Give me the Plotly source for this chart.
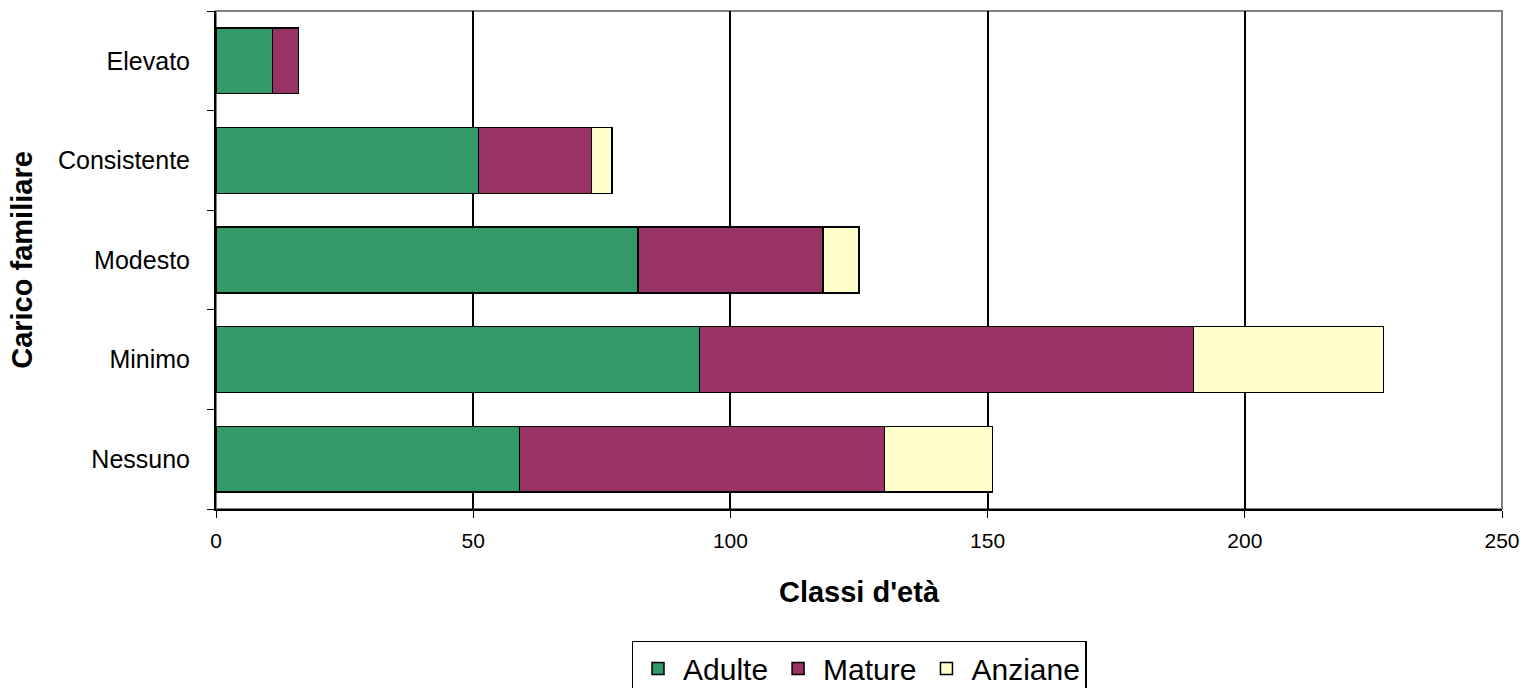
import plotly.graph_objects as go

FONT = "Arial, Liberation Sans, sans-serif"

categories = ["Nessuno", "Minimo", "Modesto", "Consistente", "Elevato"]
adulte = [59, 94, 82, 51, 11]
mature = [71, 96, 36, 22, 5]
anziane = [21, 37, 7, 4, 0]

series = [
    ("Adulte", adulte, "#339966"),
    ("Mature", mature, "#993366"),
    ("Anziane", anziane, "#FFFFCC"),
]

fig = go.Figure()
for name, vals, color in series:
    fig.add_trace(go.Bar(
        y=categories, x=vals, name=name, orientation="h",
        marker=dict(color=color, line=dict(color="black", width=1.5)),
    ))

fig.update_layout(
    barmode="stack",
    bargap=0.34,
    width=1520, height=688,
    paper_bgcolor="white",
    plot_bgcolor="white",
    font=dict(family=FONT, color="black"),
    # legend hangs off the bottom edge, so don't let it push the margins
    margin=dict(l=216, r=18, t=11, b=179, autoexpand=False),
    legend=dict(
        orientation="h", x=0.5, xanchor="center", y=-0.265, yanchor="top",
        font=dict(size=30), bordercolor="black", borderwidth=1.5,
        traceorder="normal", itemwidth=40,
    ),
    shapes=[dict(type="rect", xref="paper", yref="paper", x0=0, x1=1, y0=0, y1=1,
                 line=dict(color="#808080", width=2), layer="below")],
)
fig.update_xaxes(
    range=[0, 250], dtick=50, showgrid=True, gridcolor="black", gridwidth=1.5,
    showline=True, linecolor="black", linewidth=2, automargin=False,
    ticks="outside", ticklen=7, tickcolor="black", tickfont=dict(size=21),
    ticklabelstandoff=5,
    title=dict(text="<b>Classi d'età</b>", font=dict(size=29), standoff=30),
    zeroline=False,
)
fig.update_yaxes(
    showline=True, linecolor="black", linewidth=2, automargin=False,
    ticks="outside", tickson="boundaries", ticklen=7, tickcolor="black",
    tickfont=dict(size=25), ticklabelstandoff=19,
    title=dict(text="<b>Carico familiare</b>", font=dict(size=29), standoff=17),
    showgrid=False,
)

# page body has a default 8px margin; drop it so the figure sits at 0,0
fig.write_html(
    "out.html",
    config={"displayModeBar": False},
    post_script="document.body.style.margin='0';",
)
